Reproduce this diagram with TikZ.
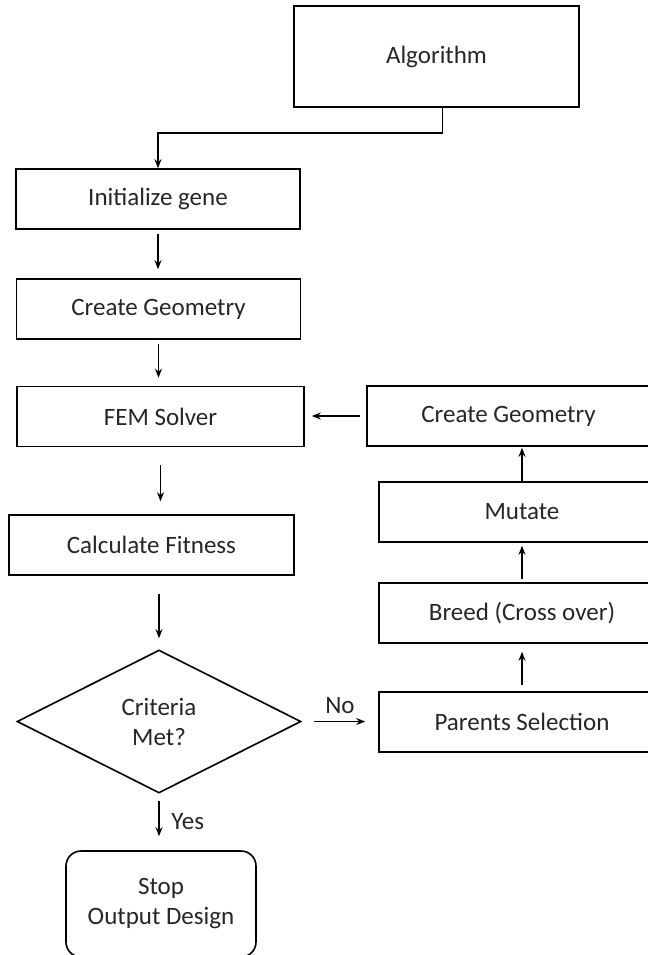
\documentclass[tikz,border=0pt]{standalone}
\usepackage{fontspec}
\setmainfont{Carlito}
\usetikzlibrary{shapes.geometric,arrows.meta}

\begin{document}
\begin{tikzpicture}[x=0.5pt,y=-0.5pt,
		every node/.style={font=\fontsize{12.5}{15}\selectfont, text=black!85},
		box/.style={draw, line width=0.8pt, minimum width=142pt, minimum height=30pt, inner sep=0pt, align=center},
		decision/.style={draw, diamond, aspect=2, line width=0.8pt, minimum width=142pt, minimum height=71.5pt, inner sep=0pt, align=center},
		term/.style={draw, rounded corners=7.5pt, line width=0.8pt, minimum width=95pt, minimum height=53pt, align=center},
		arrow/.style={-{Stealth[length=4.5pt,width=3.5pt]}, line width=0.75pt}]
		\clip (0,0) rectangle (648,955);
		\node[box, minimum width=142.5pt, minimum height=50.5pt] (alg) at (436.5,56.5) {Algorithm};
		\node[box] (init) at (158,199) {Initialize gene};
		\node[box] (geom) at (158.5,309) {Create Geometry};
		\node[box, minimum width=143.5pt] (fem) at (160.5,416.5) {FEM Solver};
		\node[box, minimum width=142.5pt] (fit) at (151.5,545) {Calculate Fitness};
		\node[decision] (crit) at (159,721.5) {Criteria\\Met?};
		\node[term] (stop) at (161,904) {Stop\\Output Design};
		\node[box, minimum width=141.5pt] (rgeom) at (508.5,416) {Create Geometry};
		\node[box, minimum width=143pt] (mut) at (522,512) {Mutate};
		\node[box, minimum width=143pt] (breed) at (522,613) {Breed (Cross over)};
		\node[box, minimum width=143pt] (par) at (522,722) {Parents Selection};
		\draw[arrow] ([xshift=3pt]alg.south) -- ++(0,25) -| (init.north);
		\draw[arrow, shorten <=2pt, shorten >=4.5pt] (init.south) -- (init.south |- geom.north);
		\draw[arrow, shorten <=2pt, shorten >=4pt] (geom.south) -- (geom.south |- fem.north);
		\draw[arrow, shorten <=9pt, shorten >=6.5pt] (fem.south) -- (fem.south |- fit.north);
		\draw[arrow, shorten <=9pt, shorten >=5.5pt] (fit.south -| crit.north) -- (crit.north);
		\draw[arrow, shorten <=3.5pt, shorten >=7pt] (crit.south) -- (crit.south |- stop.north)
			node[midway, right, xshift=2.5pt] {Yes};
		\draw[arrow, shorten <=6pt, shorten >=6.5pt] (crit.east) -- (crit.east -| par.west)
			node[midway, above] {No};
		\draw[arrow, shorten <=3pt, shorten >=4pt] (par.north) -- (breed.south);
		\draw[arrow, shorten <=1.5pt, shorten >=1.5pt] (breed.north) -- (mut.south);
		\draw[arrow, shorten >=0.5pt] (mut.north) -- (mut.north |- rgeom.south);
		\draw[arrow, shorten <=3pt, shorten >=3.5pt] (rgeom.west) -- (rgeom.west -| fem.east);
	\end{tikzpicture}
\end{document}
